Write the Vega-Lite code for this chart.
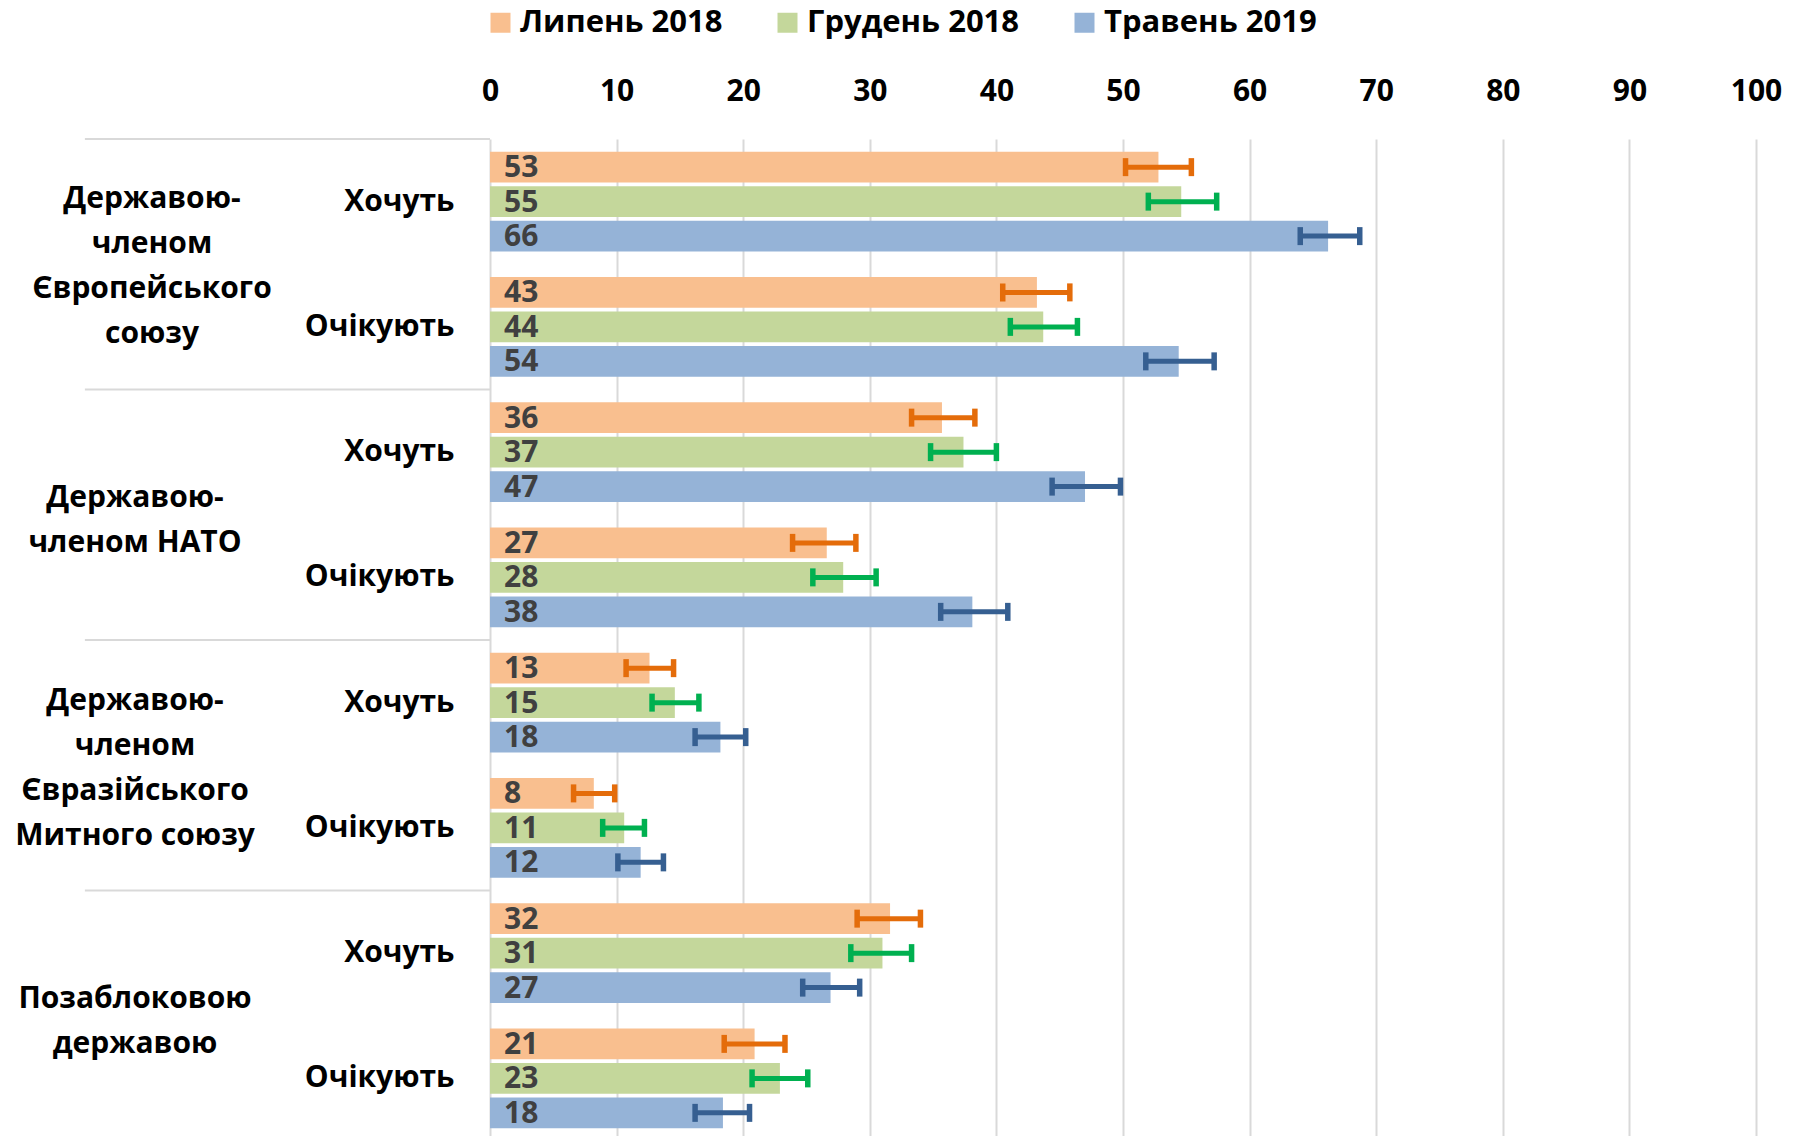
{
  "$schema": "https://vega.github.io/schema/vega-lite/v6.json",
  "width": 1266,
  "height": 1002,
  "autosize": "none",
  "padding": {"left": 490, "top": 139, "right": 40, "bottom": -5},
  "config": {"view": {"stroke": null}, "font": "Open Sans"},
  "data": {"values": [
    {"k": "Хочуть#1", "s": "Липень 2018", "v": 52.8, "lo": 50.2, "hi": 55.4},
    {"k": "Хочуть#1", "s": "Грудень 2018", "v": 54.6, "lo": 52.0, "hi": 57.4},
    {"k": "Хочуть#1", "s": "Травень 2019", "v": 66.2, "lo": 64.0, "hi": 68.7},
    {"k": "Очікують#1", "s": "Липень 2018", "v": 43.2, "lo": 40.5, "hi": 45.8},
    {"k": "Очікують#1", "s": "Грудень 2018", "v": 43.7, "lo": 41.1, "hi": 46.4},
    {"k": "Очікують#1", "s": "Травень 2019", "v": 54.4, "lo": 51.8, "hi": 57.2},
    {"k": "Хочуть#2", "s": "Липень 2018", "v": 35.7, "lo": 33.3, "hi": 38.3},
    {"k": "Хочуть#2", "s": "Грудень 2018", "v": 37.4, "lo": 34.8, "hi": 40.0},
    {"k": "Хочуть#2", "s": "Травень 2019", "v": 47.0, "lo": 44.4, "hi": 49.8},
    {"k": "Очікують#2", "s": "Липень 2018", "v": 26.6, "lo": 23.9, "hi": 28.9},
    {"k": "Очікують#2", "s": "Грудень 2018", "v": 27.9, "lo": 25.5, "hi": 30.5},
    {"k": "Очікують#2", "s": "Травень 2019", "v": 38.1, "lo": 35.6, "hi": 40.9},
    {"k": "Хочуть#3", "s": "Липень 2018", "v": 12.6, "lo": 10.75, "hi": 14.5},
    {"k": "Хочуть#3", "s": "Грудень 2018", "v": 14.6, "lo": 12.8, "hi": 16.5},
    {"k": "Хочуть#3", "s": "Травень 2019", "v": 18.2, "lo": 16.2, "hi": 20.2},
    {"k": "Очікують#3", "s": "Липень 2018", "v": 8.2, "lo": 6.6, "hi": 9.85},
    {"k": "Очікують#3", "s": "Грудень 2018", "v": 10.6, "lo": 8.9, "hi": 12.2},
    {"k": "Очікують#3", "s": "Травень 2019", "v": 11.9, "lo": 10.1, "hi": 13.7},
    {"k": "Хочуть#4", "s": "Липень 2018", "v": 31.6, "lo": 29.0, "hi": 34.0},
    {"k": "Хочуть#4", "s": "Грудень 2018", "v": 31.0, "lo": 28.5, "hi": 33.3},
    {"k": "Хочуть#4", "s": "Травень 2019", "v": 26.9, "lo": 24.7, "hi": 29.2},
    {"k": "Очікують#4", "s": "Липень 2018", "v": 20.9, "lo": 18.5, "hi": 23.3},
    {"k": "Очікують#4", "s": "Грудень 2018", "v": 22.9, "lo": 20.7, "hi": 25.1},
    {"k": "Очікують#4", "s": "Травень 2019", "v": 18.4, "lo": 16.2, "hi": 20.5}
  ]},
  "encoding": {
    "y": {
      "field": "k",
      "type": "nominal",
      "scale": {
        "domain": ["Хочуть#1", "Очікують#1", "Хочуть#2", "Очікують#2", "Хочуть#3", "Очікують#3", "Хочуть#4", "Очікують#4"],
        "paddingInner": 0.202,
        "paddingOuter": 0.101
      },
      "axis": {
        "orient": "left",
        "title": null,
        "domain": false,
        "ticks": false,
        "tickSize": 0,
        "labelPadding": 36,
        "labelExpr": "split(datum.value, '#')[0]",
        "labelFontSize": 30,
        "labelFontWeight": "bold",
        "labelColor": "#000000",
        "labelAlign": "right",
        "labelBaseline": "middle",
        "labelLimit": 0
      }
    }
  },
  "layer": [
    {
      "mark": {"type": "bar"},
      "encoding": {
        "yOffset": {
          "field": "s",
          "type": "nominal",
          "scale": {"domain": ["Липень 2018", "Грудень 2018", "Травень 2019"], "paddingInner": 0.102, "paddingOuter": 0}
        },
        "x": {
          "field": "v",
          "type": "quantitative",
          "scale": {"domain": [0, 100], "nice": false},
          "axis": {
            "orient": "top",
            "title": null,
            "values": [0, 10, 20, 30, 40, 50, 60, 70, 80, 90, 100],
            "grid": true,
            "gridColor": "#D9D9D9",
            "gridWidth": 2,
            "domain": false,
            "ticks": false,
            "tickSize": 0,
            "labelPadding": 48,
            "labelFontSize": 30,
            "labelFontWeight": "bold",
            "labelColor": "#000000",
            "labelBaseline": "middle",
            "labelFlush": false
          }
        },
        "color": {
          "field": "s",
          "type": "nominal",
          "scale": {"domain": ["Липень 2018", "Грудень 2018", "Травень 2019"], "range": ["#F9BF8F", "#C4D79B", "#95B3D7"]},
          "legend": {
            "title": null,
            "orient": "none",
            "legendX": -5,
            "legendY": -132,
            "direction": "horizontal",
            "symbolType": "square",
            "symbolSize": 400,
            "symbolStrokeWidth": 0,
            "symbolOpacity": 1,
            "labelFontSize": 31,
            "labelFontWeight": "bold",
            "labelColor": "#000000",
            "labelOffset": 4,
            "columnPadding": 49,
            "labelLimit": 0
          }
        }
      }
    },
    {
      "mark": {"type": "text", "align": "left", "baseline": "middle", "dx": 14, "dy": 1, "fontSize": 30, "fontWeight": "bold", "color": "#404040"},
      "encoding": {
        "yOffset": {"field": "s", "type": "nominal"},
        "x": {"datum": 0, "type": "quantitative"},
        "text": {"field": "v", "type": "quantitative", "format": ".0f"}
      }
    },
    {
      "mark": {"type": "rule", "strokeWidth": 5},
      "encoding": {
        "yOffset": {"field": "s", "type": "nominal"},
        "x": {"field": "lo", "type": "quantitative"},
        "x2": {"field": "hi"},
        "stroke": {
          "field": "s",
          "type": "nominal",
          "scale": {"domain": ["Липень 2018", "Грудень 2018", "Травень 2019"], "range": ["#E46C0A", "#00B050", "#365F91"]},
          "legend": null
        }
      }
    },
    {
      "mark": {"type": "tick", "orient": "vertical", "size": 18, "thickness": 5.5, "opacity": 1},
      "encoding": {
        "yOffset": {"field": "s", "type": "nominal"},
        "x": {"field": "lo", "type": "quantitative"},
        "fill": {
          "field": "s",
          "type": "nominal",
          "scale": {"domain": ["Липень 2018", "Грудень 2018", "Травень 2019"], "range": ["#E46C0A", "#00B050", "#365F91"]},
          "legend": null
        }
      }
    },
    {
      "mark": {"type": "tick", "orient": "vertical", "size": 18, "thickness": 5.5, "opacity": 1},
      "encoding": {
        "yOffset": {"field": "s", "type": "nominal"},
        "x": {"field": "hi", "type": "quantitative"},
        "fill": {
          "field": "s",
          "type": "nominal",
          "scale": {"domain": ["Липень 2018", "Грудень 2018", "Травень 2019"], "range": ["#E46C0A", "#00B050", "#365F91"]},
          "legend": null
        }
      }
    },
    {
      "data": {"values": [{"k": "Хочуть#1"}, {"k": "Хочуть#2"}, {"k": "Хочуть#3"}, {"k": "Хочуть#4"}]},
      "mark": {"type": "rule", "stroke": "#D9D9D9", "strokeWidth": 2},
      "encoding": {
        "y": {"field": "k", "type": "nominal", "bandPosition": -0.1266},
        "x": {"datum": -32.0, "type": "quantitative"},
        "x2": {"datum": 0}
      }
    },
    {
      "data": {"values": [{"k": "Хочуть#1", "grp": "Державою-|членом|Європейського|союзу"}]},
      "mark": {"type": "text", "lineBreak": "|", "align": "center", "baseline": "middle", "dy": -65, "lineHeight": 45, "fontSize": 30, "fontWeight": "bold", "color": "#000000"},
      "encoding": {
        "y": {"field": "k", "type": "nominal", "bandPosition": 1.1266},
        "x": {"datum": -26.7, "type": "quantitative"},
        "text": {"field": "grp", "type": "nominal"}
      }
    },
    {
      "data": {"values": [{"k": "Хочуть#3", "grp": "Державою-|членом|Євразійського|Митного союзу"}]},
      "mark": {"type": "text", "lineBreak": "|", "align": "center", "baseline": "middle", "dy": -64, "lineHeight": 45, "fontSize": 30, "fontWeight": "bold", "color": "#000000"},
      "encoding": {
        "y": {"field": "k", "type": "nominal", "bandPosition": 1.1266},
        "x": {"datum": -28.04, "type": "quantitative"},
        "text": {"field": "grp", "type": "nominal"}
      }
    },
    {
      "data": {"values": [{"k": "Хочуть#2", "grp": "Державою-|членом НАТО"}, {"k": "Хочуть#4", "grp": "Позаблоковою|державою"}]},
      "mark": {"type": "text", "lineBreak": "|", "align": "center", "baseline": "middle", "dy": -17, "lineHeight": 45, "fontSize": 30, "fontWeight": "bold", "color": "#000000"},
      "encoding": {
        "y": {"field": "k", "type": "nominal", "bandPosition": 1.1266},
        "x": {"datum": -28.04, "type": "quantitative"},
        "text": {"field": "grp", "type": "nominal"}
      }
    }
  ]
}
